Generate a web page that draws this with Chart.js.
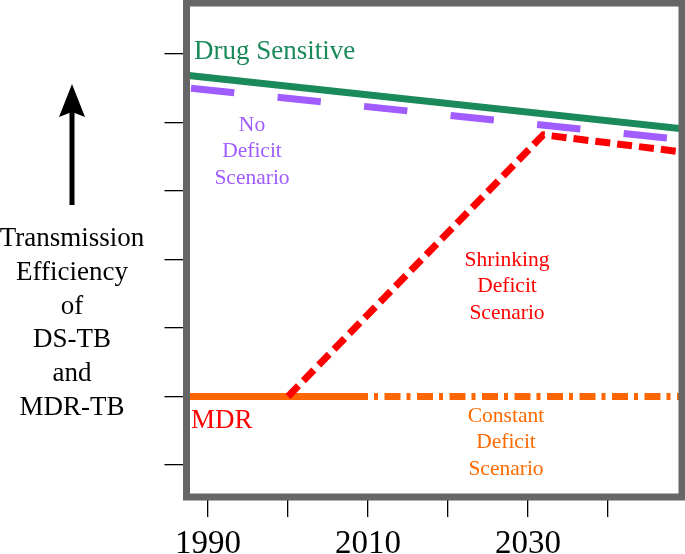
<!DOCTYPE html>
<html>
<head>
<meta charset="utf-8">
<script src="https://cdn.jsdelivr.net/npm/chart.js@4.4.1/dist/chart.umd.min.js"></script>
<style>
  html, body { margin: 0; padding: 0; background: #fff; }
  #wrap { width: 685px; height: 554px; }
</style>
</head>
<body>
<div id="wrap"><canvas id="chart"></canvas></div>
<script>
// data (x = year, y = relative transmission efficiency)
const sensitiveYears = [1987.3, 2049.3];
const sensitiveVals  = [6.69, 5.91];
const noDeficitYears = [1987.875, 2049.3];
const noDeficitVals  = [6.50, 5.75];
const shrinkingYears = [2000, 2031.9, 2049.3];
const shrinkingVals  = [2.0, 5.82, 5.57];
const mdrYears       = [1987.3, 2010];
const mdrVals        = [2.0, 2.0];
const constantYears  = [2010, 2049.3];
const constantVals   = [2.0, 2.0];

const xTicks  = [1990, 2000, 2010, 2020, 2030, 2040];
const xLabels = [1990, 2010, 2030];
const yTicks  = [1, 2, 3, 4, 5, 6, 7];

const SERIF = '"Liberation Serif", "Times New Roman", serif';

const toPoints = (xs, ys) => xs.map((x, i) => ({ x, y: ys[i] }));

// 外框 + 文字註解 + 箭頭
const decorations = {
  id: 'decorations',
  afterDatasetsDraw(chart) {
    const { ctx, chartArea: a } = chart;
    ctx.save();
    ctx.strokeStyle = '#666666';
    ctx.lineWidth = 7;
    ctx.strokeRect(a.left, a.top, a.right - a.left, a.bottom - a.top);
    ctx.restore();
  },
  afterDraw(chart) {
    const ctx = chart.ctx;
    ctx.save();
    ctx.textBaseline = 'alphabetic';

    // series labels
    ctx.font = '27px ' + SERIF;
    ctx.textAlign = 'left';
    ctx.fillStyle = '#1a8a5a';
    ctx.fillText('Drug Sensitive', 194, 59);
    ctx.fillStyle = '#ff0000';
    ctx.fillText('MDR', 191, 428);

    ctx.font = '21.5px ' + SERIF;
    ctx.textAlign = 'center';
    const block = (lines, x, y0, color) => {
      ctx.fillStyle = color;
      lines.forEach((t, i) => ctx.fillText(t, x, y0 + i * 26.3));
    };
    block(['No', 'Deficit', 'Scenario'], 252, 131, '#a05cff');
    block(['Shrinking', 'Deficit', 'Scenario'], 507, 266, '#ff0000');
    block(['Constant', 'Deficit', 'Scenario'], 506, 422, '#ff6a00');

    // y-axis title
    ctx.fillStyle = '#000';
    ctx.font = '27px ' + SERIF;
    ['Transmission', 'Efficiency', 'of', 'DS-TB', 'and', 'MDR-TB']
      .forEach((t, i) => ctx.fillText(t, 72, 246 + i * 33.8));

    // upward arrow
    ctx.fillRect(69.5, 110, 5, 95);
    ctx.beginPath();
    ctx.moveTo(72, 84);
    ctx.lineTo(85, 117);
    ctx.lineTo(72, 112);
    ctx.lineTo(59, 117);
    ctx.closePath();
    ctx.fill();
    ctx.restore();
  },
};

const lineStyle = { pointRadius: 0, borderWidth: 7, tension: 0, fill: false };

new Chart(document.getElementById('chart'), {
  type: 'line',
  data: {
    datasets: [
      { ...lineStyle, label: 'Shrinking Deficit', data: toPoints(shrinkingYears, shrinkingVals),
        borderColor: '#ff0000', borderDash: [15, 7] },
      { ...lineStyle, label: 'MDR', data: toPoints(mdrYears, mdrVals), borderColor: '#ff6600' },
      { ...lineStyle, label: 'Constant Deficit', data: toPoints(constantYears, constantVals),
        borderColor: '#ff6600', borderDash: [16, 6, 4, 6.5], borderDashOffset: 16 },
      { ...lineStyle, label: 'No Deficit', data: toPoints(noDeficitYears, noDeficitVals),
        borderColor: '#a05cff', borderDash: [43.5, 43.5] },
      { ...lineStyle, label: 'Drug Sensitive', data: toPoints(sensitiveYears, sensitiveVals),
        borderColor: '#1a8a5a' },
    ],
  },
  options: {
    responsive: true,
    maintainAspectRatio: false,
    animation: false,
    layout: { padding: { left: 164.5, right: 3, top: 3, bottom: 0 } },
    plugins: { legend: { display: false }, tooltip: { enabled: false } },
    scales: {
      x: {
        type: 'linear',
        min: 1987.3125,
        max: 2049.25,
        border: { display: false },
        grid: { drawOnChartArea: false, drawTicks: true, tickLength: 20, tickColor: '#000', lineWidth: 1.3 },
        afterBuildTicks: s => { s.ticks = xTicks.map(v => ({ value: v })); },
        afterFit: s => { s.height = 57; },
        ticks: {
          autoSkip: false,
          maxRotation: 0,
          padding: 8,
          color: '#000',
          font: { family: SERIF, size: 33 },
          callback: v => xLabels.includes(v) ? String(v) : '',
        },
      },
      y: {
        type: 'linear',
        min: 0.533,
        max: 7.745,
        border: { display: false },
        grid: { drawOnChartArea: false, drawTicks: true, tickLength: 22, tickColor: '#000', lineWidth: 1.3 },
        afterBuildTicks: s => { s.ticks = yTicks.map(v => ({ value: v })); },
        afterFit: s => { s.width = 22; },
        ticks: { display: false },
      },
    },
  },
  plugins: [decorations],
});
</script>
</body>
</html>
